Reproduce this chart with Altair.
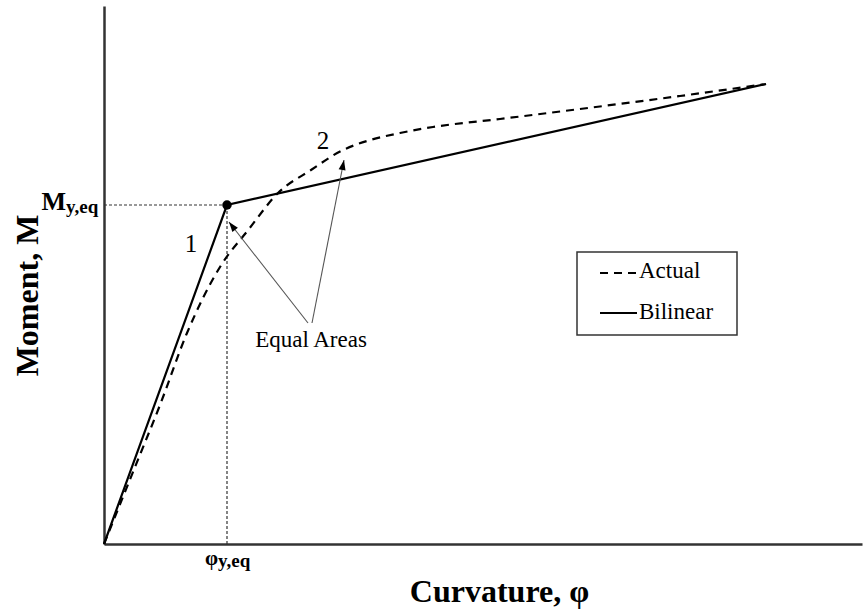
import altair as alt
import numpy as np
import pandas as pd

# Plot frame (1 unit of curvature / moment = 1 px on screen)
X_MAX = 758
Y_MAX = 538

# Bilinear idealisation: origin -> equivalent yield -> ultimate
bilinear_phi = [0, 123, 662]
bilinear_m = [0, 339, 460]

# Actual moment-curvature response
actual_phi = [0, 31, 56, 83, 116, 145, 174, 207, 239, 251, 263, 296, 329, 396, 476, 576, 662]
actual_m = [0, 77, 139, 211, 277, 315, 351, 374, 394, 399, 403, 411, 417, 425, 435, 448, 460]

# Equivalent yield point
phi_y, m_y = 123, 339

# "Equal Areas" arrows: tail and head positions
arrow_tail_phi = [204, 208]
arrow_tail_m = [221, 221]
arrow_head_phi = [125, 240]
arrow_head_m = [322, 384]

# Legend entries
legend_names = ["Actual", "Bilinear"]

FONT = "Times New Roman, Liberation Serif, Tinos, serif"

xs = alt.Scale(domain=[0, X_MAX], nice=False, zero=False)
ys = alt.Scale(domain=[0, Y_MAX], nice=False, zero=False)
x_axis = alt.Axis(
    title="Curvature, φ", ticks=False, labels=False, grid=False,
    domainColor="#333", domainWidth=2.5,
    titleFont=FONT, titleFontSize=32, titleFontWeight="bold", titleColor="black",
    titleX=395, titleY=57, titleAlign="center", titleBaseline="alphabetic",
)
y_axis = alt.Axis(
    title="Moment, M", ticks=False, labels=False, grid=False,
    domainColor="#333", domainWidth=2.5,
    titleFont=FONT, titleFontSize=32, titleFontWeight="bold", titleColor="black",
    titleAngle=270, titleX=-67, titleY=289, titleAlign="center", titleBaseline="alphabetic",
)


def X(field):
    return alt.X(f"{field}:Q", scale=xs, axis=x_axis)


def Y(field):
    return alt.Y(f"{field}:Q", scale=ys, axis=y_axis)


bilinear_df = pd.DataFrame({"phi": bilinear_phi, "m": bilinear_m})
actual_df = pd.DataFrame({"phi": actual_phi, "m": actual_m})
yield_df = pd.DataFrame({"phi": [phi_y], "m": [m_y]})

bilinear = alt.Chart(bilinear_df).mark_line(color="black", strokeWidth=2.2).encode(
    x=X("phi"), y=Y("m"), order="phi:Q"
)
actual = alt.Chart(actual_df).mark_line(
    color="black", strokeWidth=2.2, strokeDash=[8, 6], interpolate="monotone"
).encode(x=X("phi"), y=Y("m"), order="phi:Q")

# Dotted guides from the yield point to both axes
guide_h = alt.Chart(yield_df).mark_rule(color="#333", strokeWidth=1.2, strokeDash=[3, 2]).encode(
    x=alt.X("zero:Q", scale=xs, axis=x_axis), x2="phi:Q", y=Y("m")
).transform_calculate(zero="0")
guide_v = alt.Chart(yield_df).mark_rule(color="#333", strokeWidth=1.2, strokeDash=[3, 2]).encode(
    x=X("phi"), y=alt.Y("zero:Q", scale=ys, axis=y_axis), y2="m:Q"
).transform_calculate(zero="0")

yield_dot = alt.Chart(yield_df).mark_point(
    shape="circle", filled=True, color="black", size=90, opacity=1
).encode(x=X("phi"), y=Y("m"))

# Arrows
arrows_df = pd.DataFrame({
    "tx": arrow_tail_phi, "ty": arrow_tail_m,
    "hx": arrow_head_phi, "hy": arrow_head_m,
})
arrows_df["ang"] = (np.degrees(np.arctan2(arrows_df["hx"] - arrows_df["tx"],
                                          arrows_df["hy"] - arrows_df["ty"])) + 360) % 360

arrow_shafts = alt.Chart(arrows_df).mark_rule(color="#555", strokeWidth=1.1).encode(
    x=X("tx"), y=Y("ty"), x2="hx:Q", y2="hy:Q"
)
arrow_heads = alt.Chart(arrows_df).mark_point(
    shape="M0,0L-0.35,1L0.35,1Z", filled=True, color="black", size=400, opacity=1
).encode(x=X("hx"), y=Y("hy"), angle=alt.Angle("ang:Q", scale=None))

# Text annotations
notes_df = pd.DataFrame({
    "x": [87, 219, 207],
    "y": [292, 395, 197],
    "label": ["1", "2", "Equal Areas"],
    "size": [25, 25, 23],
})
notes = alt.Chart(notes_df).mark_text(
    font=FONT, align="center", baseline="alphabetic", color="black"
).encode(x=X("x"), y=Y("y"), text="label:N", size=alt.Size("size:Q", scale=None))

# Axis markers: M_y,eq and phi_y,eq
marks_main = pd.DataFrame({"x": [-38, phi_y - 9], "y": [334, -21], "label": ["M", "φ"],
                           "size": [26, 21]})
marks_sub = pd.DataFrame({"x": [-38, phi_y - 9], "y": [331, -23], "label": ["y,eq", "y,eq"],
                          "size": [19, 19]})
main_txt = alt.Chart(marks_main).mark_text(
    font=FONT, fontWeight="bold", align="right", baseline="alphabetic", color="black"
).encode(x=X("x"), y=Y("y"), text="label:N", size=alt.Size("size:Q", scale=None))
sub_txt = alt.Chart(marks_sub).mark_text(
    font=FONT, fontWeight="bold", align="left", baseline="alphabetic", color="black"
).encode(x=X("x"), y=Y("y"), text="label:N", size=alt.Size("size:Q", scale=None))

# Legend box
box_df = pd.DataFrame({"x": [473], "x2": [633], "y": [209], "y2": [292]})
legend_box = alt.Chart(box_df).mark_rect(
    fill="white", fillOpacity=0, stroke="#333", strokeWidth=1.5
).encode(x=X("x"), x2="x2:Q", y=Y("y"), y2="y2:Q")

leg_df = pd.DataFrame({
    "name": legend_names,
    "x": [496, 496], "x2": [532, 533],
    "y": [271, 231], "ty": [266, 225], "tx": [535, 535],
})
leg_dash = alt.Chart(leg_df.iloc[[0]]).mark_rule(
    color="black", strokeWidth=1.8, strokeDash=[8, 6]
).encode(x=X("x"), x2="x2:Q", y=Y("y"))
leg_solid = alt.Chart(leg_df.iloc[[1]]).mark_rule(color="black", strokeWidth=1.8).encode(
    x=X("x"), x2="x2:Q", y=Y("y")
)
leg_text = alt.Chart(leg_df).mark_text(
    font=FONT, fontSize=23, align="left", baseline="alphabetic", color="black"
).encode(x=X("tx"), y=Y("ty"), text="name:N")

chart = alt.layer(
    guide_h, guide_v, actual, bilinear, arrow_shafts, arrow_heads, yield_dot,
    notes, main_txt, sub_txt, legend_box, leg_dash, leg_solid, leg_text,
).properties(
    width=X_MAX, height=Y_MAX,
    autosize=alt.AutoSizeParams(type="none"),
    padding={"left": 104, "top": 6, "right": 3, "bottom": 67},
    background="white",
).configure_view(stroke=None)

chart.save("out.html", embed_options={"renderer": "svg", "actions": False})
